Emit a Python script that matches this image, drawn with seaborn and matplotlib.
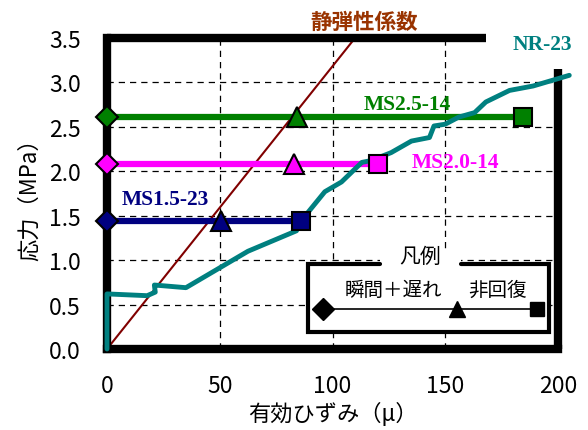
import matplotlib
matplotlib.use("Agg")
import matplotlib.pyplot as plt
import seaborn as sns
import pandas as pd
from matplotlib.patches import Rectangle

sns.set_theme(style="white")
plt.rcParams['font.family'] = ['Noto Sans CJK JP', 'DejaVu Sans']

# NR-23 curve
nr_x = [0, 0, 17.8, 21.4, 21.0, 35, 62.5, 84, 86, 96.6, 104, 113, 117, 126, 135, 143, 145, 150, 156, 163, 168, 178.5, 189, 205]
nr_y = [0, 0.62, 0.60, 0.64, 0.72, 0.69, 1.10, 1.33, 1.44, 1.77, 1.88, 2.10, 2.12, 2.21, 2.34, 2.38, 2.51, 2.53, 2.61, 2.66, 2.78, 2.91, 2.96, 3.08]

# MS series: stress level, triangle strain, square strain
ms_names = ["MS2.5-14", "MS2.0-14", "MS1.5-23"]
ms_stress = [2.61, 2.08, 1.44]
ms_tri = [84.4, 83, 50.4]
ms_sq = [184.4, 120, 86]
ms_colors = ["#008000", "#ff00ff", "#000080"]
ms_label_pos = [(133, 2.76), (154.5, 2.10), (26, 1.69)]

# static elastic modulus line
se_x = [0, 110]
se_y = [0, 3.5]

xticks = [0, 50, 100, 150, 200]
yticks = [0.0, 0.5, 1.0, 1.5, 2.0, 2.5, 3.0, 3.5]

fig = plt.figure(figsize=(5.88, 4.31), dpi=100)
ax = fig.add_axes([107/588, 1-350/431, 451/588, 311/431])
ax.set_xlim(0, 200)
ax.set_ylim(0, 3.5)

# grid
for xv in [50, 100, 150]:
    ax.axvline(xv, color="black", lw=0.9, ls=(0, (5, 4)), zorder=1)
for yv in [0.5, 1.0, 1.5, 2.0, 2.5, 3.0]:
    ax.axhline(yv, color="black", lw=0.9, ls=(0, (5, 4)), zorder=1)

# static modulus
sns.lineplot(x=se_x, y=se_y, color="#800000", lw=1.5, ax=ax, zorder=3, estimator=None)

# MS lines
for name, s, t, q, c, (lx, ly) in zip(ms_names, ms_stress, ms_tri, ms_sq, ms_colors, ms_label_pos):
    df = pd.DataFrame({"x": [0, q], "y": [s, s]})
    sns.lineplot(data=df, x="x", y="y", color=c, lw=4.5, ax=ax, zorder=4, estimator=None)
    ax.plot([0], [s], marker="D", ms=11, mfc=c, mec="black", mew=1.5, clip_on=False, zorder=8.5)
    ax.plot([t], [s], marker="^", ms=15, mfc=c, mec="black", mew=1.5, clip_on=False, zorder=8.5)
    ax.plot([q], [s], marker="s", ms=13.5, mfc=c, mec="black", mew=1.5, clip_on=False, zorder=8.5)
    ax.text(lx, ly, name, color=c, fontsize=15.5, fontweight="bold",
            family=["Liberation Serif", "DejaVu Serif"], ha="center", va="center")

# NR-23
nr_df = pd.DataFrame({"x": nr_x, "y": nr_y})
sns.lineplot(data=nr_df, x="x", y="y", sort=False, estimator=None, color="#008080", lw=3.5,
             ax=ax, zorder=7.5)
for l in ax.lines:
    l.set_clip_on(False)
ax.lines[-1].set_solid_capstyle("round")
ax.text(193, 3.43, "NR-23", color="#008080", fontsize=15.5, fontweight="bold",
        family=["Liberation Serif", "DejaVu Serif"], ha="center", va="center")
ax.text(114, 3.69, "静弾性係数", color="#993300", fontsize=15.5, fontweight="bold",
        ha="center", va="center")

# spines
for sp in ax.spines.values():
    sp.set_visible(False)
ax.plot([0, 0], [0, 3.5], color="black", lw=6, solid_capstyle="projecting", clip_on=False, zorder=7)
ax.plot([0, 200], [0, 0], color="black", lw=6, solid_capstyle="projecting", clip_on=False, zorder=7)
ax.plot([0, 168], [3.5, 3.5], color="black", lw=6, solid_capstyle="butt", clip_on=False, zorder=7)
ax.plot([200, 200], [0, 3.15], color="black", lw=6, solid_capstyle="butt", clip_on=False, zorder=7)

# legend box
lx0, lx1, ly0, ly1 = 89, 196, 0.19, 0.96
ax.add_patch(Rectangle((lx0, ly0), lx1 - lx0, ly1 - ly0, facecolor="white", edgecolor="none", zorder=8))
ax.plot([121, lx0, lx0, lx1, lx1, 157], [ly1, ly1, ly0, ly0, ly1, ly1], color="black", lw=3,
        zorder=9, solid_joinstyle="miter")
ax.add_patch(Rectangle((121, ly1 - 0.05), 36, 0.2, facecolor="white", edgecolor="none", zorder=8))
ax.text(139, 1.05, "凡例", fontsize=15, ha="center", va="center", zorder=10, color="black")
ax.plot([96, 190.6], [0.45, 0.45], color="black", lw=1.2, zorder=10)
ax.plot([96], [0.45], marker="D", ms=11, color="black", zorder=11)
ax.plot([155], [0.45], marker="^", ms=12, color="black", zorder=11)
ax.plot([190.6], [0.45], marker="s", ms=10, color="black", zorder=11)
ax.text(127, 0.67, "瞬間＋遅れ", fontsize=14, ha="center", va="center", zorder=10, color="black")
ax.text(173, 0.67, "非回復", fontsize=14, ha="center", va="center", zorder=10, color="black")

ax.set_xticks(xticks)
ax.set_xticklabels([str(v) for v in xticks], fontsize=16.5)
ax.set_yticks(yticks)
ax.set_yticklabels([f"{v:.1f}" for v in yticks], fontsize=16.5)
ax.tick_params(length=0, colors="black")
ax.tick_params(axis="y", pad=19)
ax.tick_params(axis="x", pad=18)
ax.set_xlabel("有効ひずみ（μ）", fontsize=16, color="black", labelpad=3)
ax.set_ylabel("応力（MPa）", fontsize=16, color="black", labelpad=6)

fig.savefig("out.png", dpi=100)
